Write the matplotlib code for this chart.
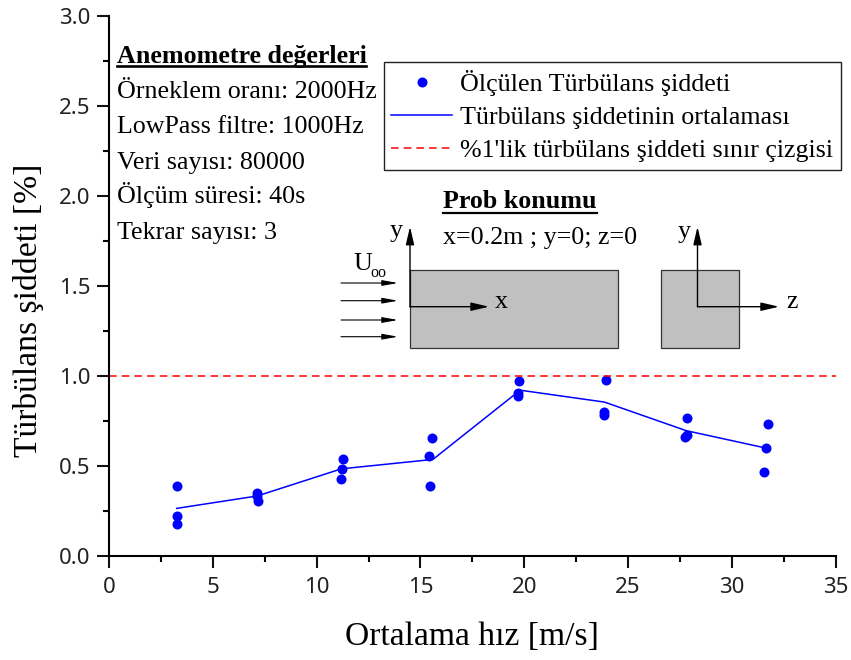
import matplotlib
matplotlib.use('Agg')
import matplotlib.pyplot as plt
from matplotlib.patches import Rectangle

# olculen noktalar
hiz_olcum = [3.26, 3.26, 3.26, 7.14, 7.14, 7.16, 11.26, 11.2, 11.16, 15.54, 15.43, 15.46,
             19.75, 19.68, 19.68, 23.94, 23.86, 23.86, 27.84, 27.84, 27.73, 31.76, 31.65, 31.53]
siddet_olcum = [0.389, 0.222, 0.176, 0.347, 0.332, 0.302, 0.537, 0.482, 0.428, 0.652, 0.552, 0.387,
                0.972, 0.902, 0.887, 0.976, 0.80, 0.782, 0.763, 0.669, 0.658, 0.733, 0.598, 0.463]

# ortalama cizgisi
hiz_ort = [3.26, 7.14, 11.2, 15.6, 19.8, 23.86, 27.8, 31.65]
siddet_ort = [0.263, 0.332, 0.483, 0.535, 0.92, 0.854, 0.695, 0.598]

# sinir cizgisi
hiz_sinir = [0, 35]
siddet_sinir = [1.0, 1.0]

x_ticks = [0, 5, 10, 15, 20, 25, 30, 35]
y_ticks = [0.0, 0.5, 1.0, 1.5, 2.0, 2.5, 3.0]

anemometre = ['Örneklem oranı: 2000Hz', 'LowPass filtre: 1000Hz', 'Veri sayısı: 80000',
              'Ölçüm süresi: 40s', 'Tekrar sayısı: 3']

W, H = 851, 660
SERIF = 'Liberation Serif'
SANS = 'Noto Sans'

fig = plt.figure(figsize=(W / 100, H / 100), dpi=100)
ax = fig.add_axes([109 / W, (H - 555.7) / H, 726.7 / W, 539.7 / H])

ax.plot(hiz_olcum, siddet_olcum, 'o', color='#0000ff', ms=7.2, mew=0, label='Ölçülen Türbülans şiddeti', clip_on=False)
ax.plot(hiz_ort, siddet_ort, '-', color='#0000ff', lw=1.1, label='Türbülans şiddetinin ortalaması')
ax.plot(hiz_sinir, siddet_sinir, color='#ff0000', lw=1.1, dashes=(5, 3.3), label="%1'lik türbülans şiddeti sınır çizgisi")

ax.set_xlim(0, 35)
ax.set_ylim(0, 3)
ax.set_xticks(x_ticks)
ax.set_yticks(y_ticks)
ax.set_yticklabels(['%.1f' % v for v in y_ticks])
ax.set_xticks([2.5 + 5 * i for i in range(7)], minor=True)
ax.set_yticks([0.25 + 0.5 * i for i in range(6)], minor=True)
ax.spines['top'].set_visible(False)
ax.spines['right'].set_visible(False)
ax.spines['left'].set_linewidth(1.5)
ax.spines['bottom'].set_linewidth(1.5)
ax.tick_params(which='major', length=8.5, width=1.5, labelsize=16, color='#111111', labelcolor='#222222')
ax.tick_params(axis='y', which='major', pad=5)
ax.tick_params(axis='x', which='major', pad=7)
ax.tick_params(which='minor', length=4.2, width=1.5)
for lab in ax.get_xticklabels() + ax.get_yticklabels():
    lab.set_family(SANS)

ax.set_xlabel('Ortalama hız [m/s]', family=SERIF, fontsize=24.2)
ax.set_ylabel('Türbülans şiddeti [%]', family=SERIF, fontsize=24.2)
ax.xaxis.set_label_coords(0.5, -0.121)
ax.yaxis.set_label_coords(-0.0895, 0.455)

leg = ax.legend(loc='upper left', bbox_to_anchor=(383.5 / W, (H - 62.3) / H), bbox_transform=fig.transFigure,
                prop={'family': SERIF, 'size': 18.7}, frameon=True, fancybox=False, framealpha=1,
                edgecolor='#222222', borderaxespad=0, handlelength=2.35, handletextpad=0.31,
                borderpad=0.3, labelspacing=0.38, numpoints=1)
leg.get_frame().set_linewidth(1)

# sema ve yazilar icin piksel koordinatli eksen
ov = fig.add_axes([0, 0, 1, 1], zorder=5)
ov.set_xlim(0, W)
ov.set_ylim(H, 0)
ov.axis('off')


def yazi(x, y, s, size=18.7, bold=False):
    ov.text(x, y, s, family=SERIF, fontsize=size, fontweight='bold' if bold else 'normal',
            va='baseline', ha='left', color='black')


def ok(x0, y0, x1, y1, lw=1.0, boy=0.77, en=0.18):
    ov.annotate('', xy=(x1, y1), xytext=(x0, y0),
                arrowprops=dict(arrowstyle='-|>,head_length=%g,head_width=%g' % (boy, en), color='black',
                                lw=lw, shrinkA=0, shrinkB=0, mutation_scale=14))


yazi(117, 63, 'Anemometre değerleri', bold=True)
ov.plot([117, 366], [66.3, 66.3], color='black', lw=1.9)
for y, s in zip([98, 133, 169, 203, 239], anemometre):
    yazi(117, y, s)

yazi(443, 208, 'Prob konumu', bold=True)
ov.plot([443, 597], [212.7, 212.7], color='black', lw=1.6)
yazi(443, 244, 'x=0.2m ; y=0; z=0')

ov.add_patch(Rectangle((409.5, 269.5), 208, 78.5, fc='#c0c0c0', ec='#333333', lw=0.9))
ov.add_patch(Rectangle((660.5, 269.5), 78.5, 78.5, fc='#c0c0c0', ec='#333333', lw=0.9))

ok(410, 306.7, 410, 226.7)
ok(410, 306.7, 489, 306.7)
ok(697.5, 306.7, 697.5, 226.7)
ok(697.5, 306.7, 779, 306.7)
for y in [283, 300.7, 320, 336.7]:
    ok(341, y, 398, y, lw=0.8, boy=0.67, en=0.12)

yazi(390, 236.7, 'y')
yazi(678, 238, 'y')
yazi(495, 308, 'x')
yazi(786, 308, 'z')
yazi(353, 270, 'U')
yazi(370.5, 276.7, 'oo', size=11.5)

fig.savefig('out.png', dpi=100)
